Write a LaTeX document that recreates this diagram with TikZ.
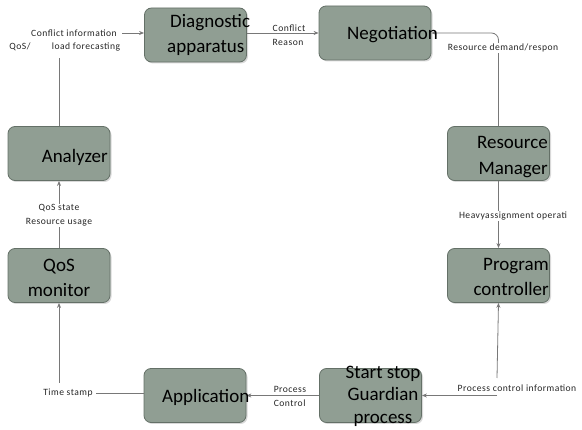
\documentclass[tikz,border=0pt]{standalone}
\usepackage{fontspec}
\setmainfont{Carlito}
\usetikzlibrary{arrows.meta,shadows}
\definecolor{boxfill}{RGB}{144,158,147}
\definecolor{boxline}{RGB}{100,112,103}
\definecolor{wire}{RGB}{120,120,120}
\tikzset{
  block/.style={draw=boxline, line width=0.8pt, fill=boxfill, rounded corners=7pt,
    minimum width=102pt, minimum height=54pt, inner sep=0pt,
    drop shadow={shadow xshift=1.5pt, shadow yshift=-1.5pt, fill=black!25, opacity=0.6}},
  btext/.style={font=\fontsize{19}{25.5}\selectfont, inner sep=0pt},
  lbl/.style={font=\fontsize{9.6}{14}\selectfont\addfontfeatures{LetterSpace=5}, inner sep=1pt, text=black!85},
  mask/.style={fill=white},
  wire/.style={draw=wire, line width=0.8pt},
  arr/.style={wire, -{Stealth[length=5pt,width=4pt]}},
}
\begin{document}
\begin{tikzpicture}[x=1pt,y=-1pt]
\useasboundingbox (0,0) rectangle (582,430);

% boxes
\node[block] (diag) at (195.5,35) {};
\node[block, minimum width=112pt] (nego) at (375,33) {};
\node[block] (ana) at (59,153.5) {};
\node[block] (qos) at (59,275.5) {};
\node[block] (rm) at (498.5,153.5) {};
\node[block] (pc) at (498.5,275.5) {};
\node[block] (app) at (195,395.5) {};
\node[block] (ssg) at (370.5,395.5) {};

% coordinates where connectors end beside their labels
\coordinate (cLoad) at (59,58);
\coordinate (cConfR) at (122,33);
\coordinate (cPciTop) at (497,378);
\coordinate (cPci) at (497,395.5);
\coordinate (cTimeR) at (96,393);
\coordinate (cTimeTop) at (59,383);

% connectors
\draw[wire] (ana.north) -- (cLoad);
\draw[arr] (cConfR) -- (diag.west |- cConfR);
\draw[arr] (diag.east |- nego.west) -- (nego.west);
\draw[arr, rounded corners=7pt] (rm.north) |- (nego.east);
\draw[arr] (rm.south) -- (pc.north);
\draw[arr] (cPciTop) -- (pc.south);
\draw[arr] (cPci) -- (ssg.east);
\draw[arr] (ssg.west) -- (app.east);
\draw[wire] (app.west |- cTimeR) -- (cTimeR);
\draw[arr] (cTimeTop) -- (qos.south);
\draw[arr] (qos.north) -- (ana.south);

% box captions
\node[btext, align=left, anchor=west] (diagT) at (167,35) {\hspace*{3pt}Diagnostic\\apparatus};
\node[btext, anchor=west] (negoT) at (347,35) {Negotiation};
\node[btext, anchor=east] (anaT) at (108,157) {Analyzer};
\node[btext, align=center] (qosT) at (59,278) {QoS\\monitor};
\node[btext, align=right, anchor=east] (rmT) at (548,157) {Resource\\Manager};
\node[btext, align=right, anchor=east] (pcT) at (549,277) {Program\\controller};
\node[btext, anchor=west] (appT) at (162,397) {Application};
\node[btext, align=center, font=\fontsize{19}{22.5}\selectfont] (ssgT) at (383,396) {Start stop\\Guardian\\process};

% connector labels
\node[lbl] (lConf) at (74,33) {Conflict information};
\node[lbl] (lQoS) at (20,47) {QoS/};
\node[lbl] (lLoad) at (86,47) {load forecasting};
\node[lbl, align=left] (lReason) at (289,35.5) {Conflict\\Reason};
\node[lbl, mask] (lDemand) at (503,48) {Resource demand/respon};
\node[lbl, mask] (lHeavy) at (513,216) {Heavyassignment operati};
\node[lbl] (lPci) at (517,388) {Process control information};
\node[lbl, align=left] (lProc) at (290,396.5) {Process\\Control};
\node[lbl] (lTime) at (68,393) {Time stamp};
\node[lbl, align=center, mask] (lState) at (59,215.5) {QoS state\\Resource usage};
\end{tikzpicture}
\end{document}
